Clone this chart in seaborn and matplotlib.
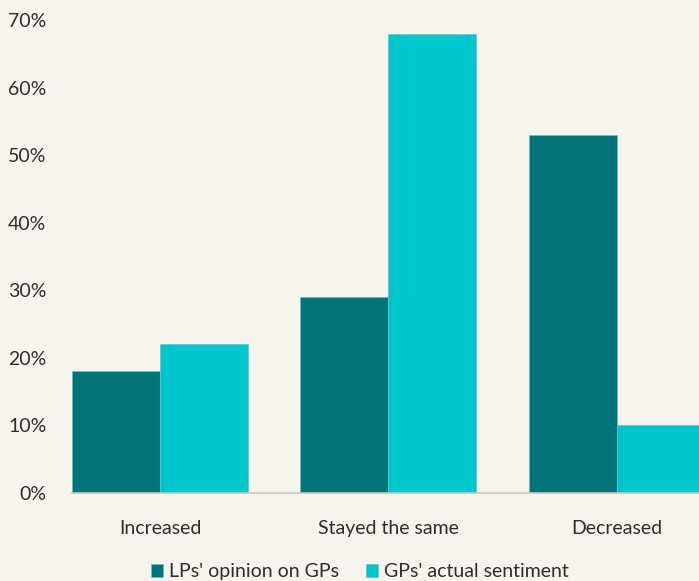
import matplotlib
matplotlib.use("Agg")
import matplotlib.pyplot as plt
import seaborn as sns
import pandas as pd

categories = ["Increased", "Stayed the same", "Decreased"]
series_names = ["LPs' opinion on GPs", "GPs' actual sentiment"]
lp_values = [18, 29, 53]
gp_values = [22, 68, 10]
y_ticks = [0, 10, 20, 30, 40, 50, 60, 70]
y_tick_labels = [f"{v}%" for v in y_ticks]

colors = ["#017479", "#00c5cc"]
bg = "#f7f4ee"
text_color = "#2e2e2e"

df = pd.DataFrame({
    "category": categories * 2,
    "series": [series_names[0]] * 3 + [series_names[1]] * 3,
    "value": lp_values + gp_values,
})

sns.set_theme(style="white")
plt.rcParams["font.family"] = ["Lato", "DejaVu Sans"]
fs = 14

fig = plt.figure(figsize=(6.99, 5.81), dpi=100, facecolor=bg)
ax = fig.add_axes([72 / 699, 88 / 581, (699 - 72) / 699, (493 - 20) / 581])
ax.set_facecolor(bg)

sns.barplot(data=df, x="category", y="value", hue="series", order=categories,
            hue_order=series_names, palette=colors, width=0.77, ax=ax,
            edgecolor="#5fc3c6", linewidth=0.5, saturation=1, legend=True)

ax.set_ylim(0, 70)
ax.set_xlim(-0.385, 2.359)
ax.set_yticks(y_ticks)
ax.set_yticklabels(y_tick_labels, fontsize=fs, color=text_color)
ax.tick_params(axis="y", length=0, pad=18.5)
ax.tick_params(axis="x", length=0, pad=19.5, labelsize=fs, labelcolor=text_color)
ax.set_xlabel("")
ax.set_ylabel("")
for s in ["top", "right", "left"]:
    ax.spines[s].set_visible(False)
ax.spines["bottom"].set_color("#c9c5bd")
ax.spines["bottom"].set_linewidth(1.2)

handles, labels = ax.get_legend_handles_labels()
ax.get_legend().remove()
fig.legend(handles, labels, loc="center", bbox_to_anchor=(0.515, 0.016), ncol=2,
           frameon=False, fontsize=fs, handlelength=0.6, handleheight=0.6,
           handletextpad=0.3, columnspacing=1.4, labelcolor=text_color)

fig.savefig("out.png", dpi=100, facecolor=bg)
